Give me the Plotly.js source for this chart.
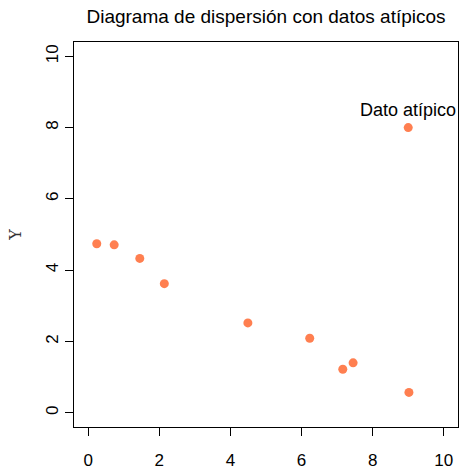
<!DOCTYPE html>
<html>
<head>
<meta charset="utf-8">
<script src="https://cdn.plot.ly/plotly-3.0.1.min.js"></script>
<style>html,body{margin:0;padding:0;background:#fff;}#chart{width:459px;height:471px;}</style>
</head>
<body>
<div id="chart"></div>
<script>
const xValues = [0.24, 0.73, 1.45, 2.14, 4.49, 6.23, 7.16, 7.45, 9.02, 9.0];
const yValues = [4.74, 4.71, 4.33, 3.62, 2.52, 2.09, 1.22, 1.40, 0.57, 8.0];
const tickValues = [0, 2, 4, 6, 8, 10];
const outlierX = 9.0;
const outlierY = 8.0;
const outlierLabel = "Dato atípico";
const chartTitle = "Diagrama de dispersión con datos atípicos";
const yTitle = "Y";

const font = "Liberation Sans, Arial, Helvetica, sans-serif";

const trace = {
  x: xValues, y: yValues, type: "scatter", mode: "markers",
  marker: {color: "#FF7F50", size: 9},
  hoverinfo: "none", showlegend: false, cliponaxis: false
};

const axisCommon = {
  range: [-0.4, 10.4], tickvals: tickValues, ticktext: tickValues.map(String),
  showgrid: false, zeroline: false, showline: true, mirror: true,
  linecolor: "#000", linewidth: 1, ticks: "outside", ticklen: 8, tickwidth: 1,
  tickcolor: "#000", tickfont: {family: font, size: 17, color: "#000"},
  automargin: false, fixedrange: true
};

const layout = {
  width: 459, height: 471,
  margin: {l: 74, r: 1, t: 42, b: 44},
  paper_bgcolor: "#fff", plot_bgcolor: "#fff",
  title: {text: chartTitle, font: {family: font, size: 19, color: "#000"},
          x: 0.5, xanchor: "center", y: 0.966, yanchor: "middle", xref: "paper"},
  xaxis: Object.assign({}, axisCommon, {ticklabelstandoff: 10}),
  yaxis: Object.assign({}, axisCommon, {tickangle: -90, ticklabelstandoff: 0,
    title: {text: yTitle, standoff: 17, font: {family: "DejaVu Serif, serif", size: 16, color: "#333"}}}),
  annotations: [{
    x: outlierX, y: outlierY, xref: "x", yref: "y", text: outlierLabel,
    showarrow: false, xanchor: "center", yanchor: "middle", yshift: 18,
    font: {family: font, size: 18, color: "#000"}
  }]
};

Plotly.newPlot("chart", [trace], layout, {staticPlot: true, displayModeBar: false});
</script>
</body>
</html>
